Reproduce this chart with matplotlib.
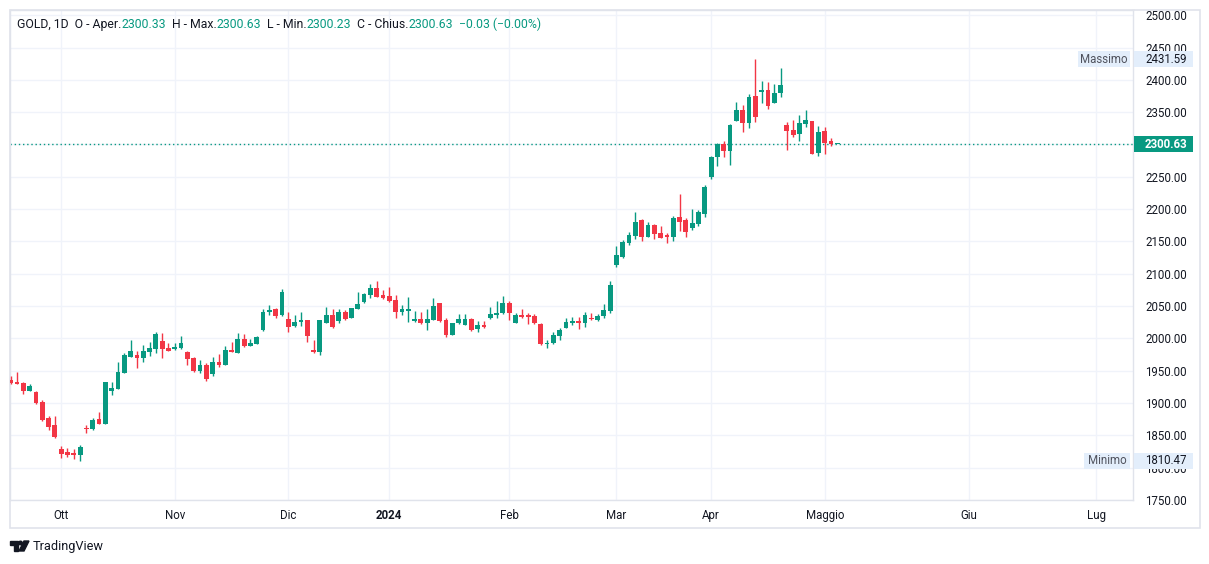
import matplotlib
matplotlib.use("Agg")
import matplotlib.pyplot as plt
from matplotlib.patches import Rectangle, Polygon, Circle
from matplotlib.transforms import blended_transform_factory
import numpy as np

# ---------------- data ----------------
opens = [1936, 1932.5, 1931, 1919, 1917, 1902, 1876.5, 1866, 1828.5, 1824,
         1822.5, 1820, 1861, 1859.6, 1875, 1868, 1919, 1922, 1947, 1971.5,
         1974, 1970, 1979, 1983.4, 1995.8, 1985, 1983, 1985.4, 1979.3, 1969.5,
         1949.8, 1958.7, 1945.2, 1963.3, 1958.7, 1982, 1977.7, 1998.5, 1988.5, 1991.6,
         2012.8, 2040.7, 2045.4, 2036, 2030, 2019.5, 2025.2, 2028.3, 1982.3, 1978.8,
         2024.2, 2036.5, 2026.8, 2040.7, 2031.4, 2045.4, 2056.2, 2067, 2077.9, 2067,
         2065.5, 2059.3, 2041.2, 2042.7, 2027.2, 2029.9, 2024.2, 2028.8, 2054.6, 2028.3,
         2005.1, 2023.7, 2021.1, 2030.4, 2014.4, 2020.6, 2031.4, 2036.1, 2039.1, 2054.6,
         2024.2, 2036.1, 2036.1, 2034.5, 2022.2, 1991, 1992.7, 2004, 2016.4, 2023.7,
         2026.8, 2024.2, 2031.4, 2028.8, 2034.5, 2042.7, 2113.4, 2125.8, 2148, 2158.4,
         2183.1, 2157.3, 2175.4, 2163, 2160, 2157.3, 2187.8, 2183.1, 2171.2, 2177.4,
         2192.4, 2249.7, 2280.7, 2300.8, 2289.9, 2336.8, 2353.4, 2333.7, 2375.1, 2381.3,
         2384.4, 2364.7, 2380.2, 2330.2, 2322.4, 2316.7, 2332.2, 2336.4, 2287.3, 2320.9,
         2305.4, 2300.33]
highs = [1941, 1948, 1932, 1929, 1918, 1904.5, 1880, 1880, 1833, 1830,
         1828.5, 1835, 1866, 1876.6, 1886, 1933, 1932.4, 1963, 1977, 1997.5,
         1980, 1989.6, 1994, 2010, 2008.7, 1992, 1993, 2003.6, 1980, 1970.6,
         1966.4, 1961.3, 1971, 1975.7, 1988.5, 1994.3, 2008.7, 2007, 1998.5, 2003.6,
         2045.4, 2052, 2047.4, 2076.3, 2041, 2036.5, 2040.7, 2029, 1997.4, 2029,
         2048.5, 2045, 2045.8, 2043.8, 2047.5, 2071.2, 2070.1, 2084, 2088.7, 2075,
         2079.4, 2067, 2051.5, 2063.5, 2042.2, 2040.7, 2045.4, 2062.4, 2055, 2031,
         2024, 2037.6, 2037.6, 2031, 2026.3, 2026.8, 2048.5, 2057.3, 2065.5, 2058.2,
         2039.1, 2045.8, 2039.1, 2038.1, 2023, 1997, 2009.3, 2015.9, 2031.4, 2033,
         2033, 2041.2, 2039, 2038, 2053.1, 2088.7, 2142.9, 2152.2, 2164.6, 2195.5,
         2184.2, 2180, 2177.4, 2173.8, 2163.5, 2189.3, 2223.4, 2186.2, 2200.2, 2199,
         2237.8, 2282.2, 2302.3, 2305.4, 2331.7, 2365.8, 2361.1, 2378.6, 2431.59, 2398.3,
         2396.7, 2393.7, 2418.4, 2334.8, 2337.9, 2345.7, 2353.4, 2337, 2328.6, 2327.1,
         2310, 2300.63]
lows = [1930, 1929, 1914, 1918, 1899, 1872, 1858.5, 1845.5, 1815, 1816.7,
        1813, 1810.47, 1853.7, 1858.5, 1867, 1867, 1912.7, 1921, 1946, 1971,
        1954.5, 1962.8, 1972.6, 1977, 1970, 1980, 1982, 1984, 1958, 1947.8,
        1945.8, 1934.4, 1941.6, 1956, 1958, 1979, 1977, 1987, 1988, 1991,
        2011.3, 2036.5, 2031.9, 2035, 2010, 2018, 2019.5, 1994.3, 1977.7, 1973.7,
        2024, 2016.5, 2023.2, 2029, 2031, 2045, 2054.6, 2062.4, 2063.5, 2060.8,
        2056.7, 2031.9, 2036, 2025.7, 2026, 2021.7, 2013.3, 2028, 2025.7, 2002,
        2005, 2022.2, 2021, 2011.8, 2010.2, 2016, 2030.4, 2031.9, 2037.6, 2028.8,
        2024, 2031.9, 2021.7, 2022.2, 1990, 1985.4, 1991.2, 1996.9, 2016, 2020.6,
        2014.4, 2017.5, 2028.8, 2027.3, 2031.4, 2039.6, 2110.8, 2124.3, 2144.9, 2154.2,
        2150.6, 2157, 2154.2, 2155, 2147.5, 2151, 2166, 2156.8, 2168, 2174.3,
        2187.8, 2246.6, 2266.7, 2280.7, 2268.3, 2336, 2319.3, 2326, 2335.3, 2364.2,
        2355, 2364, 2374, 2292, 2312, 2305.9, 2327.6, 2285, 2282.7, 2285.8,
        2298, 2300.23]
closes = [1931, 1930, 1919, 1926, 1900, 1873.5, 1863, 1847, 1821.5, 1820,
          1819.3, 1832, 1860, 1873.5, 1868, 1932, 1923, 1948, 1974, 1980,
          1970, 1980.3, 1984.5, 2006.7, 1983, 1981, 1987, 1993.2, 1968.4, 1949.8,
          1958.7, 1937, 1963.3, 1958.7, 1981.9, 1979.3, 1998.9, 1988.5, 1992.7, 2002,
          2040.7, 2043.8, 2035, 2071.7, 2018, 2025.2, 2028.3, 2003.6, 1978.8, 2028.3,
          2036.1, 2017.4, 2040.7, 2029.9, 2046.9, 2053.1, 2068.6, 2077.9, 2064.4, 2062.8,
          2057.7, 2041.2, 2044.9, 2045.8, 2029.9, 2023.2, 2029.9, 2050, 2026.8, 2005.1,
          2023.7, 2030.4, 2030.4, 2013.3, 2020.6, 2017.5, 2037.2, 2039.1, 2054.6, 2039.6,
          2036.1, 2033, 2033.4, 2024.2, 1991.2, 1992, 2005.1, 2012.8, 2025.2, 2026.8,
          2023.7, 2036.1, 2030.4, 2034.5, 2044.3, 2082.5, 2128.9, 2149, 2160, 2180,
          2157.3, 2175.4, 2162, 2155.7, 2157.3, 2186.2, 2180, 2164.6, 2178.5, 2195.5,
          2234.7, 2280.7, 2300.8, 2289.9, 2330.2, 2353.4, 2333.7, 2373.5, 2343, 2384.4,
          2360, 2379.7, 2392.1, 2321.4, 2314.7, 2333.3, 2337.9, 2285.8, 2319.3, 2302.8,
          2300.66, 2300.63]

month_labels = ["Ott", "Nov", "Dic", "2024", "Feb", "Mar", "Apr", "Maggio", "Giu", "Lug"]
month_bar_index = [8, 26, 44, 60, 79, 96, 111, 129, 151.9, 172.0]
price_ticks = list(range(1750, 2501, 50))

symbol = "GOLD, 1D"
change_str = "\u22120.03 (\u22120.00%)"
max_label = "Massimo"
min_label = "Minimo"

# ---------------- style ----------------
UP = "#089981"
DOWN = "#F23645"
TXT = "#131722"
GRID = "#f0f3fa"
BORDER = "#e0e3eb"
LABEL_BG = "#e3eefb"
FONT = ["Roboto", "DejaVu Sans"]
plt.rcParams["font.family"] = FONT

W, H = 1209, 564
fig = plt.figure(figsize=(W / 100, H / 100), dpi=100)
fig.patch.set_facecolor("white")

# pane: x 10..1133 px, y 10..500 px (from top)
PL, PR, PT, PB = 10, 1133, 10, 500
ax = fig.add_axes([PL / W, (H - PB) / H, (PR - PL) / W, (PB - PT) / H])
ax.set_facecolor("white")

n = len(opens)
x = np.arange(n)
o = np.array(opens); h = np.array(highs); l = np.array(lows); c = np.array(closes)
colors = np.where(c >= o, UP, DOWN)
body_bottom = np.minimum(o, c)
body_h = np.maximum(np.abs(c - o), 1.4)

ax.vlines(x, l, h, colors=colors, linewidth=1.0, zorder=3)
ax.bar(x, body_h, bottom=body_bottom, width=0.76, color=colors, linewidth=0, zorder=4)

spacing = 6.31  # px per bar
x_left = -0.7 / spacing
ax.set_xlim(x_left, x_left + (PR - PL) / spacing)
ax.set_ylim(1749.7, 2508.2)

# grid
ax.set_axisbelow(True)
ax.set_yticks(price_ticks)
ax.set_yticklabels([f"{v:.2f}" for v in price_ticks])
ax.set_xticks(month_bar_index)
ax.set_xticklabels(month_labels)
ax.grid(True, color=GRID, linewidth=1.0)
ax.yaxis.tick_right()
ax.tick_params(axis="y", length=0, pad=9, labelsize=8.3, labelcolor=TXT)
ax.tick_params(axis="x", length=0, pad=6.5, labelsize=8.3, labelcolor=TXT)
for lab in ax.get_xticklabels():
    if lab.get_text() == "2024":
        lab.set_fontweight("bold")
for sp in ax.spines.values():
    sp.set_color(BORDER)
    sp.set_linewidth(1.0)

# last price dotted line
last = closes[-1]
ax.axhline(last, color=UP, linestyle=(0, (1, 2)), linewidth=1.0, zorder=2)

# labels on price scale
btr = blended_transform_factory(ax.transAxes, ax.transData)
def ax_x(px):
    return (px - PL) / (PR - PL)
box_h = 16 / 0.646

def price_box(y, text, fc, tc, weight="normal", x0=1134, x1=1193):
    ax.add_patch(Rectangle((ax_x(x0), y - box_h / 2), ax_x(x1) - ax_x(x0), box_h,
                           transform=btr, facecolor=fc, edgecolor="none",
                           clip_on=False, zorder=10))
    ax.text(ax_x(1187), y, text, transform=btr, ha="right", va="center",
            fontsize=8.3, color=tc, fontweight=weight, clip_on=False, zorder=11)

hi_v = max(highs); lo_v = min(lows)
price_box(last, f"{last:.2f}", UP, "white", weight="bold")
price_box(hi_v, f"{hi_v:.2f}", LABEL_BG, TXT)
price_box(lo_v, f"{lo_v:.2f}", LABEL_BG, TXT)

def name_box(y, text, x0, x1=1130):
    ax.add_patch(Rectangle((ax_x(x0), y - box_h / 2), ax_x(x1) - ax_x(x0), box_h,
                           transform=btr, facecolor=LABEL_BG, edgecolor="none",
                           clip_on=False, zorder=10))
    ax.text(ax_x((x0 + x1) / 2), y, text, transform=btr, ha="center", va="center",
            fontsize=8.3, color="#50535e", clip_on=False, zorder=11)

name_box(hi_v, max_label, 1078)
name_box(lo_v, min_label, 1084)

# outer frame (price axis + time axis area)
fig.add_artist(Rectangle((PL / W, (H - 528) / H), (1200 - PL) / W, (528 - PT) / H,
                         transform=fig.transFigure, facecolor="none",
                         edgecolor=BORDER, linewidth=1.2, zorder=0))

# header legend
renderer = fig.canvas.get_renderer()
pieces = [(symbol + "  O - Aper.", TXT), (f"{opens[-1]:.2f}", UP),
          ("  H - Max.", TXT), (f"{highs[-1]:.2f}", UP),
          ("  L - Min.", TXT), (f"{lows[-1]:.2f}", UP),
          ("  C - Chius.", TXT), (f"{closes[-1]:.2f}", UP),
          ("  " + change_str, UP)]
cx = 17
for s, col in pieces:
    t = fig.text(cx / W, 1 - 24.5 / H, s, color=col, fontsize=8.85, ha="left",
                 va="center")
    bb = t.get_window_extent(renderer)
    cx = bb.x1

# TradingView logo
lg = fig.add_axes([0, 0, 1, 1], facecolor="none")
lg.set_xlim(0, W); lg.set_ylim(H, 0); lg.axis("off")
lg.add_patch(Polygon([(10, 541), (18, 541), (18, 551), (14, 551), (14, 545), (10, 545)],
                     closed=True, color=TXT))
lg.add_patch(Circle((20.5, 543), 1.8, color=TXT))
lg.add_patch(Polygon([(24, 541), (29, 541), (24, 551), (19, 551)], closed=True, color=TXT))
lg.text(33, 546.5, "TradingView", fontsize=9.2, color=TXT, ha="left", va="center")

fig.savefig("out.png", dpi=100)
